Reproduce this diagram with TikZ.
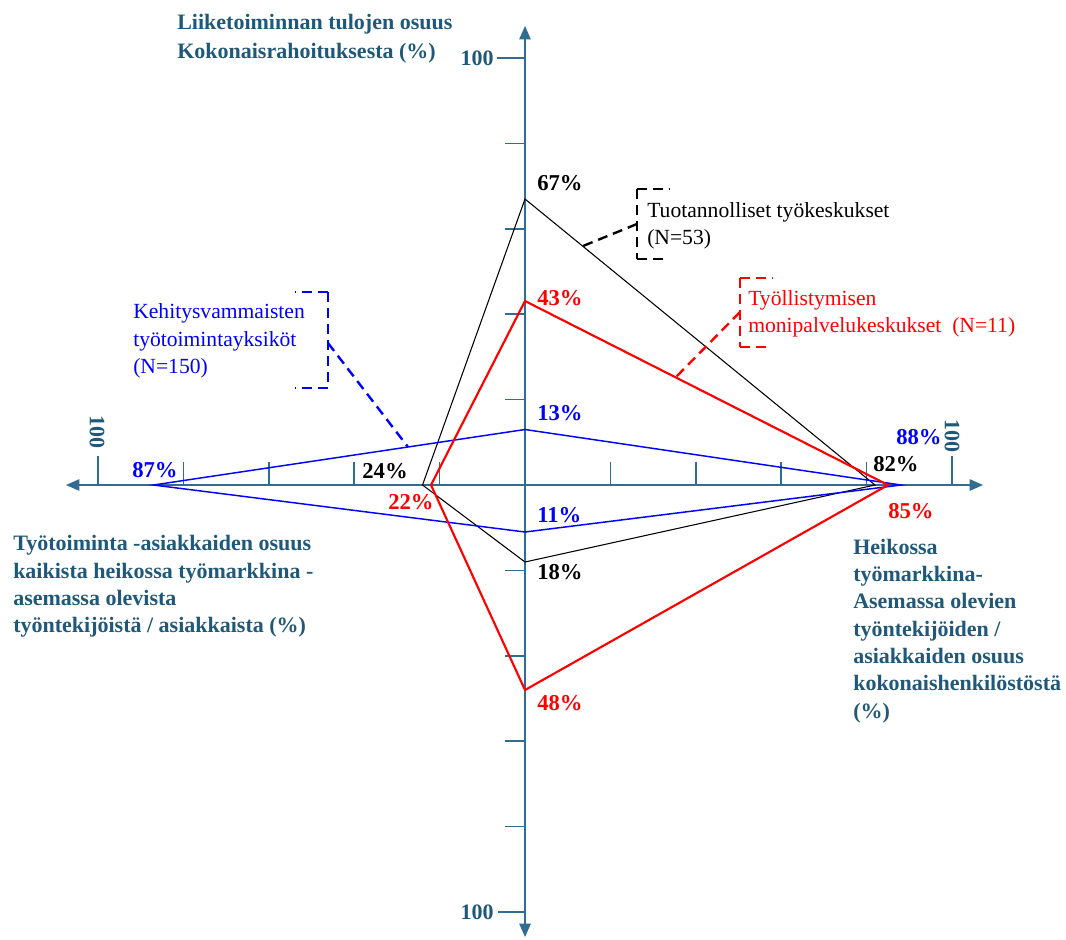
\documentclass[tikz,border=0pt]{standalone}
\usepackage{fontspec}
\setmainfont{Liberation Serif}
\usetikzlibrary{arrows.meta}
\definecolor{axiscol}{HTML}{2F6E92}
\definecolor{axtext}{HTML}{1F5878}
\definecolor{bl}{HTML}{0000FF}
\definecolor{rd}{HTML}{FF0000}
\begin{document}
\begin{tikzpicture}[x=0.75pt,y=-0.75pt,
  axisline/.style={draw=axiscol,line width=1.2pt,{Triangle[length=10pt,width=8.5pt]}-{Triangle[length=10pt,width=8.5pt]}},
  tickline/.style={draw=axiscol,line width=1.1pt},
  axlabel/.style={font=\rmfamily\fontsize{16.5}{20.5}\selectfont\bfseries,text=axtext,align=left,inner sep=0pt,anchor=west},
  hundred/.style={font=\rmfamily\fontsize{16.5}{20}\selectfont\bfseries,text=axtext,inner sep=0pt},
  pct/.style={font=\rmfamily\fontsize{17}{20}\selectfont\bfseries,inner sep=0pt},
  legend/.style={font=\rmfamily\fontsize{16.2}{20.5}\selectfont,align=left,inner sep=0pt,anchor=west},
  leader/.style={dash pattern=on 7.5pt off 4.5pt,line width=1.8pt},
  bracket/.style={dash pattern=on 7.5pt off 4.5pt,line width=1.8pt,line cap=butt}]
\useasboundingbox (0,0) rectangle (1066,939);

% axes
\coordinate (O) at (525,485);
\coordinate (axT) at (525,26);
\coordinate (axB) at (525,937);
\coordinate (axL) at (66,485);
\coordinate (axR) at (983,485);
\draw[axisline] (axB) -- (axT);
\draw[axisline] (axL) -- (axR);

% ticks
\foreach \i in {1,2,3,4} {
  \draw[tickline] (525+\i*85.4,485) -- (525+\i*85.4,462);
  \draw[tickline] (525-\i*85.4,485) -- (525-\i*85.4,462);
  \draw[tickline] (525,485-\i*85.4) -- (505,485-\i*85.4);
  \draw[tickline] (525,485+\i*85.4) -- (505,485+\i*85.4);
}
\draw[tickline] (525,58) -- (497,58);
\draw[tickline] (525,912) -- (498,912);
\draw[tickline] (98,485) -- (98,456);
\draw[tickline] (952,485) -- (952,456);

% 100 labels
\node[hundred,anchor=east] (hT) at (494,58) {100};
\node[hundred,anchor=east] (hB) at (494,912) {100};
\node[hundred,rotate=-90] (hL) at (97,432) {100};
\node[hundred,rotate=-90] (hR) at (952,436) {100};

% axis titles
\node[axlabel,font=\rmfamily\fontsize{16.5}{21.8}\selectfont\bfseries] (tTop) at (177,38.5) {Liiketoiminnan tulojen osuus\\Kokonaisrahoituksesta (\%)};
\node[axlabel] (tLeft) at (13,586.5) {Työtoiminta -asiakkaiden osuus\\kaikista heikossa työmarkkina -\\asemassa olevista\\työntekijöistä / asiakkaista (\%)};
\node[axlabel] (tRight) at (853,631) {Heikossa\\työmarkkina-\\Asemassa olevien\\työntekijöiden /\\asiakkaiden osuus\\kokonaishenkilöstöstä\\(\%)};

% data vertices
\coordinate (kT) at (525,199);
\coordinate (kR) at (875,485);
\coordinate (kB) at (525,562);
\coordinate (kL) at (422.5,485);
\coordinate (rT) at (525,301);
\coordinate (rR) at (888,485);
\coordinate (rB) at (525,690);
\coordinate (rL) at (431,485);
\coordinate (uT) at (525,429.5);
\coordinate (uR) at (901,485);
\coordinate (uB) at (525,532);
\coordinate (uL) at (153.5,485);

\draw[black,line width=0.8pt,line join=miter] (kT) -- (kR) -- (kB) -- (kL) -- cycle;
\draw[bl,line width=1.1pt] (uT) -- (uR) -- (uB) -- (uL) -- cycle;
\draw[rd,line width=1.6pt] (rT) -- (rR) -- (rB) -- (rL) -- cycle;

% percent labels
\node[pct,anchor=west] (k67) at (537,183) {67\%};
\node[pct,anchor=west,text=rd] (r43) at (537,298) {43\%};
\node[pct,anchor=west,text=bl] (u13) at (537,413) {13\%};
\node[pct,anchor=west,text=bl] (u11) at (537,515) {11\%};
\node[pct,anchor=west] (k18) at (537,572) {18\%};
\node[pct,anchor=west,text=rd] (r48) at (537,703) {48\%};
\node[pct,anchor=west,text=bl] (u87) at (132,470) {87\%};
\node[pct,anchor=east] (k24) at (408,471) {24\%};
\node[pct,anchor=west,text=rd] (r22) at (388,502) {22\%};
\node[pct,anchor=west,text=bl] (u88) at (896,437) {88\%};
\node[pct,anchor=west] (k82) at (873,464) {82\%};
\node[pct,anchor=west,text=rd] (r85) at (888,511) {85\%};

% legends
\node[legend] (legK) at (647,226) {Tuotannolliset työkeskukset\\(N=53)};
\node[legend,text=rd] (legR) at (748,313.5) {Työllistymisen\\monipalvelukeskukset\ \ (N=11)};
\node[legend,text=bl] (legU) at (133,341) {Kehitysvammaisten\\työtoimintayksiköt\\(N=150)};

% brackets (each piece drawn from its corner)
\draw[bracket,black] (637,189) -- (670,189);
\draw[bracket,black] (637,189) -- (637,259);
\draw[bracket,black] (637,259) -- (665,259);
\draw[bracket,rd] (740,278) -- (773,278);
\draw[bracket,rd] (740,278) -- (740,347);
\draw[bracket,rd] (740,347) -- (768,347);
\draw[bracket,bl] (328,292) -- (295,292);
\draw[bracket,bl] (328,292) -- (328,388);
\draw[bracket,bl] (328,388) -- (295,388);

% leaders
\coordinate (kLs) at (637,224);
\coordinate (kLe) at (583,246);
\coordinate (rLs) at (740,312);
\coordinate (rLe) at (676,377);
\coordinate (uLs) at (328,343);
\coordinate (uLe) at (408,447);
\draw[leader,black] (kLs) -- (kLe);
\draw[leader,rd] (rLs) -- (rLe);
\draw[leader,bl] (uLs) -- (uLe);
\end{tikzpicture}
\end{document}
